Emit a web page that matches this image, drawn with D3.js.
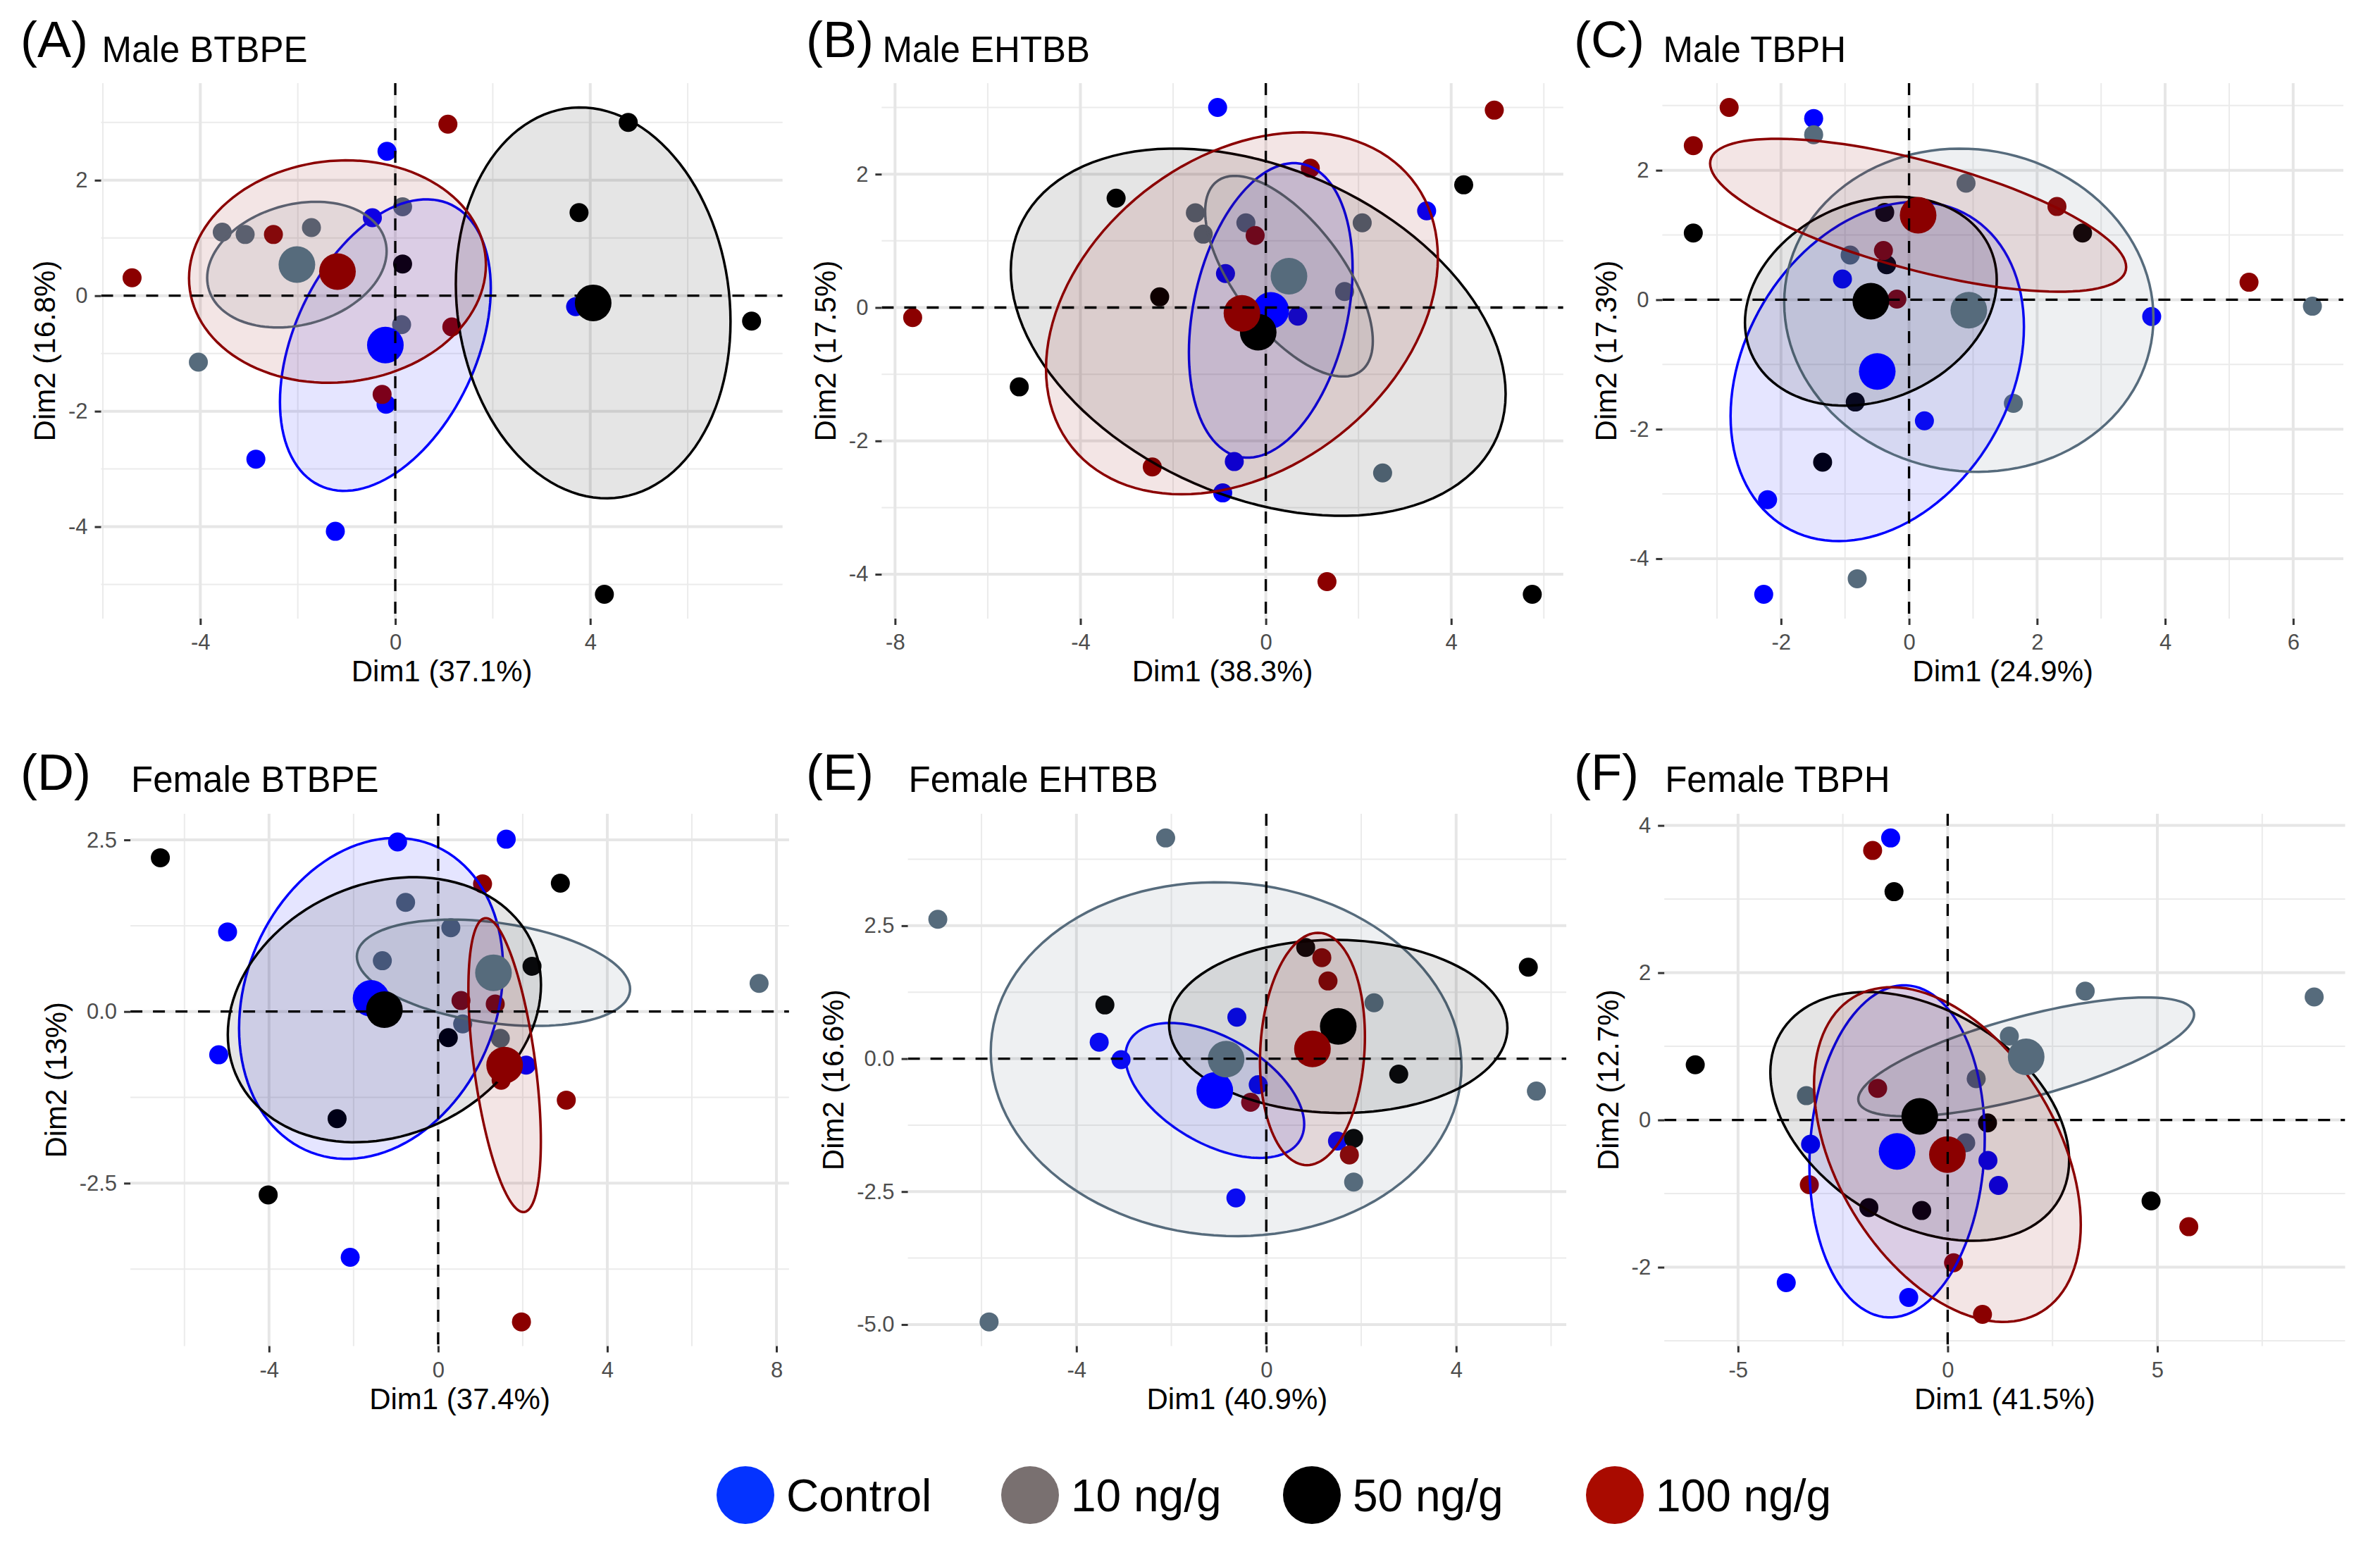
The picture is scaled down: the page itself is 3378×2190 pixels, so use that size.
<!DOCTYPE html>
<html><head><meta charset="utf-8">
<script src="https://cdn.jsdelivr.net/npm/d3@7"></script>
<style>body{margin:0;background:#fff} svg{display:block}</style>
</head><body>
<svg id="chart" width="3378" height="2190"></svg>
<script>
// ---------------- DATA ----------------
const groups = ["Control", "10 ng/g", "50 ng/g", "100 ng/g"];
const panelLabels = ["(A)", "(B)", "(C)", "(D)", "(E)", "(F)"];
const panelTitles = ["Male BTBPE", "Male EHTBB", "Male TBPH", "Female BTBPE", "Female EHTBB", "Female TBPH"];
const xTitles = ["Dim1 (37.1%)", "Dim1 (38.3%)", "Dim1 (24.9%)", "Dim1 (37.4%)", "Dim1 (40.9%)", "Dim1 (41.5%)"];
const yTitles = ["Dim2 (16.8%)", "Dim2 (17.5%)", "Dim2 (17.3%)", "Dim2 (13%)", "Dim2 (16.6%)", "Dim2 (12.7%)"];
const xTickValues = [[-4, 0, 4], [-8, -4, 0, 4], [-2, 0, 2, 4, 6], [-4, 0, 4, 8], [-4, 0, 4], [-5, 0, 5]];
const xTickLabels = [["-4", "0", "4"], ["-8", "-4", "0", "4"], ["-2", "0", "2", "4", "6"], ["-4", "0", "4", "8"], ["-4", "0", "4"], ["-5", "0", "5"]];
const yTickValues = [[-4, -2, 0, 2], [-4, -2, 0, 2], [-4, -2, 0, 2], [-2.5, 0, 2.5], [-5, -2.5, 0, 2.5], [-2, 0, 2, 4]];
const yTickLabels = [["-4", "-2", "0", "2"], ["-4", "-2", "0", "2"], ["-4", "-2", "0", "2"], ["-2.5", "0.0", "2.5"], ["-5.0", "-2.5", "0.0", "2.5"], ["-2", "0", "2", "4"]];

// (A) Male BTBPE
const A_control = [[-0.17, 2.50], [-0.47, 1.35], [-0.19, -1.88], [-2.86, -2.83], [-1.23, -4.08], [3.70, -0.19]];
const A_10 = [[-3.55, 1.10], [-3.08, 1.06], [-1.72, 1.18], [-4.04, -1.15], [0.15, 1.54], [0.13, -0.50]];
const A_50 = [[4.78, 3.00], [3.77, 1.44], [0.15, 0.55], [7.31, -0.44], [4.29, -5.17]];
const A_100 = [[1.08, 2.97], [-5.40, 0.31], [-2.50, 1.06], [1.16, -0.54], [-0.27, -1.71]];
// (B) Male EHTBB
const B_control = [[-1.04, 3.00], [3.47, 1.45], [-0.87, 0.51], [0.69, -0.13], [-0.68, -2.31], [-0.93, -2.78]];
const B_10 = [[-1.52, 1.42], [-0.43, 1.27], [-1.35, 1.10], [2.08, 1.27], [1.70, 0.24], [2.52, -2.48]];
const B_50 = [[-3.23, 1.64], [-2.29, 0.16], [-5.32, -1.19], [4.27, 1.84], [5.75, -4.30]];
const B_100 = [[-7.62, -0.15], [4.93, 2.96], [0.96, 2.09], [-0.23, 1.08], [-2.45, -2.39], [1.32, -4.11]];
// (C) Male TBPH
const C_control = [[-1.49, 2.80], [-1.04, 0.32], [3.79, -0.26], [0.24, -1.87], [-2.21, -3.09], [-2.27, -4.55]];
const C_10 = [[-1.49, 2.55], [0.89, 1.80], [-0.92, 0.69], [6.30, -0.10], [1.63, -1.60], [-0.81, -4.31]];
const C_50 = [[-3.37, 1.03], [-0.38, 1.35], [-0.35, 0.54], [2.71, 1.03], [-0.84, -1.58], [-1.35, -2.51]];
const C_100 = [[-2.81, 2.97], [-3.37, 2.38], [2.31, 1.44], [-0.40, 0.76], [-0.19, 0.01], [5.31, 0.27]];
// (D) Female BTBPE
const D_control = [[-0.96, 2.47], [1.61, 2.51], [-4.98, 1.16], [-5.19, -0.63], [2.08, -0.78], [-2.08, -3.58]];
const D_10 = [[-0.77, 1.59], [0.30, 1.22], [-1.32, 0.74], [7.59, 0.41], [0.58, -0.18], [1.47, -0.39]];
const D_50 = [[-6.57, 2.24], [2.89, 1.87], [2.22, 0.66], [0.24, -0.38], [-2.39, -1.56], [-4.02, -2.67]];
const D_100 = [[1.05, 1.86], [0.54, 0.16], [1.35, 0.11], [1.49, -1.00], [3.03, -1.29], [1.97, -4.52]];
// (E) Female EHTBB
const E_control = [[-0.62, 0.78], [-3.52, 0.31], [-3.06, -0.02], [-0.17, -0.49], [1.50, -1.55], [-0.64, -2.62]];
const E_10 = [[-2.12, 4.15], [-6.92, 2.62], [2.27, 1.05], [5.69, -0.61], [1.84, -2.32], [-5.84, -4.95]];
const E_50 = [[0.83, 2.09], [-3.40, 1.01], [5.52, 1.72], [2.79, -0.29], [1.84, -1.50]];
const E_100 = [[1.17, 1.90], [1.30, 1.46], [-0.33, -0.82], [1.75, -1.81]];
// (F) Female TBPH
const F_control = [[-1.36, 3.83], [-3.27, -0.33], [0.96, -0.55], [1.21, -0.89], [-3.85, -2.21], [-0.93, -2.41]];
const F_10 = [[3.28, 1.75], [8.74, 1.67], [1.47, 1.14], [0.68, 0.56], [-3.37, 0.33], [0.43, -0.31]];
const F_50 = [[-1.28, 3.10], [-6.02, 0.75], [0.95, -0.04], [-1.88, -1.19], [-0.62, -1.23], [4.85, -1.10]];
const F_100 = [[-1.79, 3.66], [-1.67, 0.43], [-3.30, -0.88], [0.14, -1.94], [0.83, -2.64], [5.75, -1.45]];

const panelData = [
  [A_control, A_10, A_50, A_100],
  [B_control, B_10, B_50, B_100],
  [C_control, C_10, C_50, C_100],
  [D_control, D_10, D_50, D_100],
  [E_control, E_10, E_50, E_100],
  [F_control, F_10, F_50, F_100]
];

// ---------------- STYLE / LAYOUT ----------------
const plotColors = ["#0000FF", "#566B7C", "#000000", "#8B0000"];
const legendColors = ["#0433FF", "#797070", "#000000", "#A90B00"];
const FONT = "'Liberation Sans', Arial, Helvetica, sans-serif";

const layout = [
  {left: 143.5, right: 1110.7, top: 118, bottom: 878, labelX: 29, labelY: 81, titleY: 88},
  {left: 1251.4, right: 2218.8, top: 118, bottom: 878, labelX: 1144, labelY: 81, titleY: 88},
  {left: 2359.4, right: 3326, top: 118, bottom: 878, labelX: 2234, labelY: 81, titleY: 88},
  {left: 185.1, right: 1119.9, top: 1155, bottom: 1910.5, labelX: 29, labelY: 1121, titleY: 1124},
  {left: 1288.6, right: 2223.1, top: 1155, bottom: 1910.5, labelX: 1144, labelY: 1121, titleY: 1124},
  {left: 2362.2, right: 3328.5, top: 1155, bottom: 1910.5, labelX: 2234, labelY: 1121, titleY: 1124}
];

const svg = d3.select("#chart");
svg.append("rect").attr("width", 3378).attr("height", 2190).attr("fill", "#fff");

// 95% confidence ellipse of the group barycentre (cov / n, chi-square 2 df)
function confEllipse(pts) {
  const n = pts.length;
  const mx = d3.mean(pts, d => d[0]), my = d3.mean(pts, d => d[1]);
  let sxx = 0, syy = 0, sxy = 0;
  pts.forEach(p => { const dx = p[0] - mx, dy = p[1] - my; sxx += dx * dx; syy += dy * dy; sxy += dx * dy; });
  sxx /= (n - 1) * n; syy /= (n - 1) * n; sxy /= (n - 1) * n;
  const t = Math.sqrt(5.991465);
  const a = Math.sqrt(sxx), b = sxy / a, c = Math.sqrt(Math.max(syy - b * b, 0));
  return d3.range(0, 121).map(i => {
    const th = 2 * Math.PI * i / 120;
    return [mx + t * a * Math.cos(th), my + t * (b * Math.cos(th) + c * Math.sin(th))];
  });
}

function minors(ticks, dom) {
  const st = ticks[1] - ticks[0];
  const out = [];
  for (let v = ticks[0] - st / 2; v <= ticks[ticks.length - 1] + st / 2 + 1e-9; v += st) {
    if (v >= dom[0] && v <= dom[1]) out.push(v);
  }
  return out;
}

panelData.forEach((grpPts, pi) => {
  const L = layout[pi];
  const g = svg.append("g");
  const ellipses = grpPts.map(confEllipse);
  const means = grpPts.map(p => [d3.mean(p, d => d[0]), d3.mean(p, d => d[1])]);
  const all = grpPts.flat().concat(ellipses.flat(), means);
  const [x0, x1] = d3.extent(all, d => d[0]);
  const [y0, y1] = d3.extent(all, d => d[1]);
  const ex = (x1 - x0) * 0.05, ey = (y1 - y0) * 0.05;
  const x = d3.scaleLinear().domain([x0 - ex, x1 + ex]).range([L.left, L.right]);
  const y = d3.scaleLinear().domain([y0 - ey, y1 + ey]).range([L.bottom, L.top]);

  const xt = xTickValues[pi], yt = yTickValues[pi];
  const grid = g.append("g");
  minors(xt, x.domain()).forEach(v => grid.append("line").attr("x1", x(v)).attr("x2", x(v)).attr("y1", L.top).attr("y2", L.bottom).attr("stroke", "#EBEBEB").attr("stroke-width", 2));
  minors(yt, y.domain()).forEach(v => grid.append("line").attr("y1", y(v)).attr("y2", y(v)).attr("x1", L.left).attr("x2", L.right).attr("stroke", "#EBEBEB").attr("stroke-width", 2));
  xt.forEach(v => grid.append("line").attr("x1", x(v)).attr("x2", x(v)).attr("y1", L.top).attr("y2", L.bottom).attr("stroke", "#E6E6E6").attr("stroke-width", 4));
  yt.forEach(v => grid.append("line").attr("y1", y(v)).attr("y2", y(v)).attr("x1", L.left).attr("x2", L.right).attr("stroke", "#E6E6E6").attr("stroke-width", 4));

  const xAxis = d3.axisBottom(x).tickValues(xt).tickFormat((d, i) => xTickLabels[pi][i]).tickSize(9).tickPadding(13);
  const yAxis = d3.axisLeft(y).tickValues(yt).tickFormat((d, i) => yTickLabels[pi][i]).tickSize(9).tickPadding(10);
  const gx = g.append("g").attr("transform", `translate(0,${L.bottom})`).call(xAxis);
  const gy = g.append("g").attr("transform", `translate(${L.left},0)`).call(yAxis);
  [gx, gy].forEach(ax => {
    ax.select(".domain").remove();
    ax.selectAll(".tick line").attr("stroke", "#333333").attr("stroke-width", 3);
    ax.selectAll(".tick text").attr("fill", "#4D4D4D").style("font-family", FONT).style("font-size", "31px");
  });

  g.append("text").attr("x", (L.left + L.right) / 2).attr("y", L.bottom + 89)
    .attr("text-anchor", "middle").style("font-family", FONT).style("font-size", "42px").text(xTitles[pi]);
  let maxW = 0;
  gy.selectAll(".tick text").each(function () { maxW = Math.max(maxW, this.getComputedTextLength()); });
  const ytx = L.left - 19 - maxW - 19;
  g.append("text").attr("transform", `translate(${ytx},${(L.top + L.bottom) / 2}) rotate(-90)`)
    .attr("text-anchor", "middle").style("font-family", FONT).style("font-size", "42px").text(yTitles[pi]);

  g.append("text").attr("x", L.labelX).attr("y", L.labelY).style("font-family", FONT).style("font-size", "72px").text(panelLabels[pi]);
  g.append("text").attr("x", L.left + 1).attr("y", L.titleY).style("font-family", FONT).style("font-size", "51px").text(panelTitles[pi]);

  const clipId = "clip" + pi;
  svg.append("clipPath").attr("id", clipId).append("rect").attr("x", L.left).attr("y", L.top).attr("width", L.right - L.left).attr("height", L.bottom - L.top);
  const pg = g.append("g").attr("clip-path", `url(#${clipId})`);

  grpPts.forEach((pts, gi) => {
    pg.selectAll(null).data(pts).enter().append("circle")
      .attr("cx", d => x(d[0])).attr("cy", d => y(d[1])).attr("r", 13.5).attr("fill", plotColors[gi]);
  });
  const line = d3.line().x(d => x(d[0])).y(d => y(d[1]));
  ellipses.forEach((e, gi) => {
    pg.append("path").attr("d", line(e) + "Z").attr("fill", plotColors[gi]).attr("fill-opacity", 0.1)
      .attr("stroke", plotColors[gi]).attr("stroke-width", 3.5);
  });
  means.forEach((m, gi) => {
    pg.append("circle").attr("cx", x(m[0])).attr("cy", y(m[1])).attr("r", 26).attr("fill", plotColors[gi]);
  });
  pg.append("line").attr("x1", L.left).attr("x2", L.right).attr("y1", y(0)).attr("y2", y(0))
    .attr("stroke", "#000").attr("stroke-width", 3.3).attr("stroke-dasharray", "17,15");
  pg.append("line").attr("y1", L.top).attr("y2", L.bottom).attr("x1", x(0)).attr("x2", x(0))
    .attr("stroke", "#000").attr("stroke-width", 3.3).attr("stroke-dasharray", "17,15");
});

// legend
const legendX = [1058, 1462, 1862, 2292];
const lg = svg.append("g");
groups.forEach((name, i) => {
  lg.append("circle").attr("cx", legendX[i]).attr("cy", 2122).attr("r", 41).attr("fill", legendColors[i]);
  lg.append("text").attr("x", legendX[i] + 58).attr("y", 2145).style("font-family", FONT).style("font-size", "64px").text(name);
});
</script>
</body></html>
